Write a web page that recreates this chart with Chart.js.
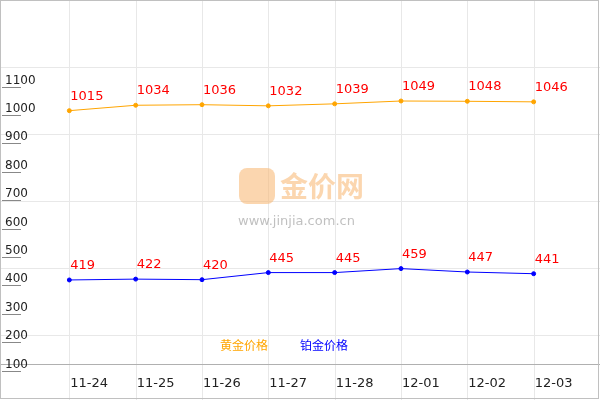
<!DOCTYPE html>
<html><head><meta charset="utf-8">
<script src="https://cdn.jsdelivr.net/npm/chart.js@4"></script>
<style>html,body{margin:0;padding:0;background:#fff}</style>
</head><body>
<canvas id="c" width="600" height="400"></canvas>
<script>
const categories=['11-24','11-25','11-26','11-27','11-28','12-01','12-02','12-03'];
const goldValues=[1015,1034,1036,1032,1039,1049,1048,1046];
const platinumValues=[419,422,420,445,445,459,447,441];
const yTickLabels=[100,200,300,400,500,600,700,800,900,1000,1100];
const seriesNames=['黄金价格','铂金价格'];

const FONT='"DejaVu Sans", Verdana, sans-serif';
const deco={
  id:'deco',
  beforeDatasetsDraw(ch){
    const c=ch.ctx, ys=ch.scales.y, xs=ch.scales.x;
    c.save();
    c.strokeStyle='#e8e8e8';c.lineWidth=1;
    for(let i=1;i<=8;i++){const x=Math.round(xs.getPixelForValue(i))+0.5;c.beginPath();c.moveTo(x,0);c.lineTo(x,400);c.stroke();}
    for(let k=1;k<=5;k++){const y=Math.round(67*k)+0.5;c.beginPath();c.moveTo(0,y);c.lineTo(600,y);c.stroke();}
    c.strokeStyle='#b0b0b0';c.beginPath();c.moveTo(0,364.5);c.lineTo(600,364.5);c.stroke();
    c.strokeStyle='#c0c0c0';c.strokeRect(0.5,0.5,598,398);
    c.fillStyle='rgba(247,180,110,0.55)';
    c.beginPath();c.roundRect(239,168,36,36,8);c.fill();
    c.font='bold 28px "Noto Sans CJK SC", sans-serif';c.textBaseline='middle';c.textAlign='left';
    c.fillText('金价网',280,186);
    c.fillStyle='rgba(150,150,150,0.6)';c.font='13px '+FONT;c.fillText('www.jinjia.com.cn',238,222);
    c.fillStyle='#222';c.font='12px '+FONT;c.textAlign='left';c.textBaseline='alphabetic';
    yTickLabels.forEach(v=>{const y=Math.round(ys.getPixelForValue(v))+0.5;
      c.strokeStyle='#888';c.beginPath();c.moveTo(2,y);c.lineTo(21,y);c.stroke();
      c.fillText(String(v),5,y-4);});
    c.font='13px '+FONT;
    categories.forEach((l,i)=>c.fillText(l,xs.getPixelForValue(i+1)+1,387));
    c.font='12px "Noto Sans CJK SC", sans-serif';
    c.fillStyle='#FFA500';c.fillText(seriesNames[0],220,350);
    c.fillStyle='#0000FF';c.fillText(seriesNames[1],300,350);
    c.restore();
  },
  afterDatasetsDraw(ch){
    const c=ch.ctx;c.save();c.fillStyle='#FF0000';c.font='13px '+FONT;c.textAlign='left';
    ch.data.datasets.forEach((ds,di)=>{ch.getDatasetMeta(di).data.forEach((p,i)=>{c.fillText(String(ds.data[i].y),p.x+1,p.y-11);});});
    c.restore();
  }
};
new Chart(document.getElementById('c'),{
  type:'line',
  data:{datasets:[
    {data:goldValues.map((v,i)=>({x:i+1,y:v})),borderColor:'#FFA500',backgroundColor:'#FFA500',borderWidth:1,pointRadius:2,pointHoverRadius:2},
    {data:platinumValues.map((v,i)=>({x:i+1,y:v})),borderColor:'#0000FF',backgroundColor:'#0000FF',borderWidth:1,pointRadius:2,pointHoverRadius:2}
  ]},
  options:{responsive:false,animation:false,layout:{padding:0},
    plugins:{legend:{display:false},tooltip:{enabled:false}},
    scales:{x:{type:'linear',min:0,max:8.955,display:false},y:{min:7,max:1394,display:false}}},
  plugins:[deco]
});
</script></body></html>
